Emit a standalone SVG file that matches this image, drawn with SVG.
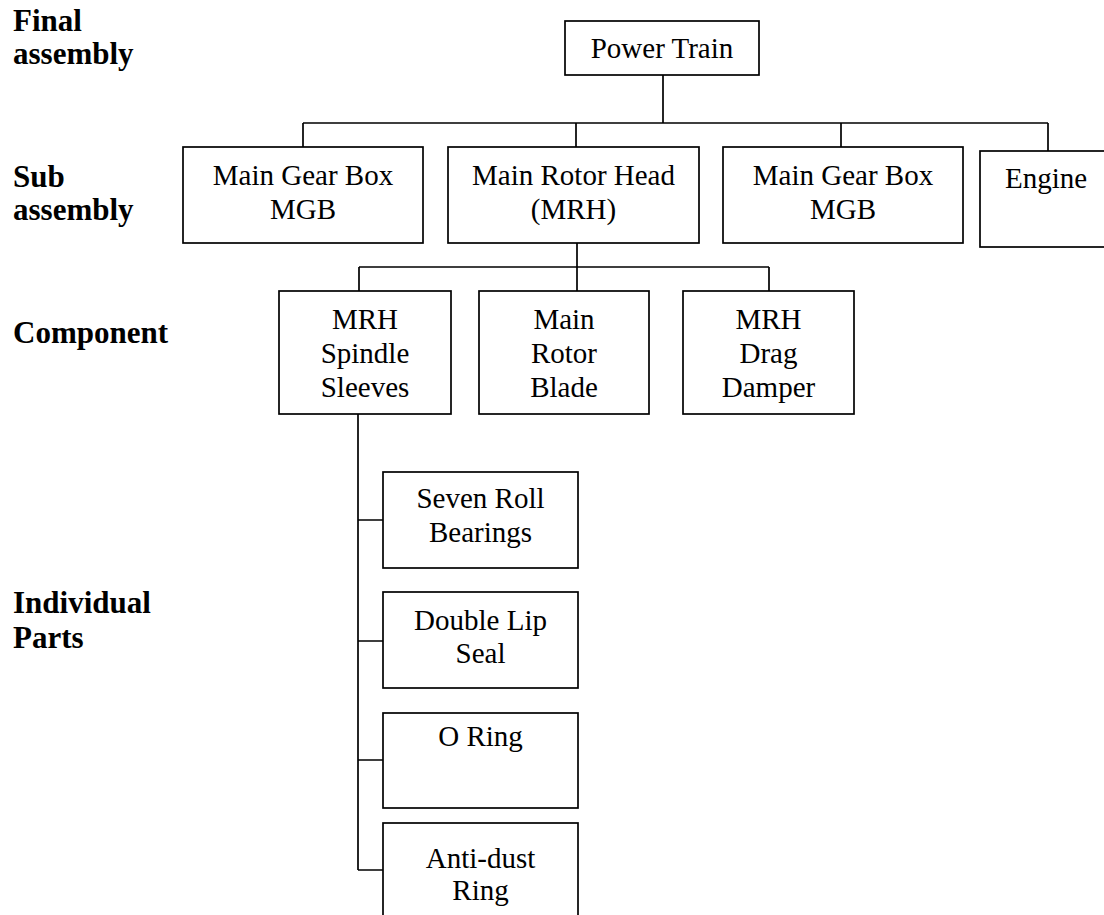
<svg xmlns="http://www.w3.org/2000/svg" width="1104" height="915" viewBox="0 0 1104 915">
  <style>
    .box { fill: #ffffff; stroke: #000000; stroke-width: 1.7; }
    .wire { fill: none; stroke: #000000; stroke-width: 1.7; }
    .lbl { font-family: "Liberation Serif", "Times New Roman", serif; font-size: 29px; fill: #000000; text-anchor: middle; }
    .lvl { font-family: "Liberation Serif", "Times New Roman", serif; font-size: 31px; font-weight: bold; fill: #000000; }
  </style>
  <rect width="1104" height="915" fill="#ffffff"/>

  <!-- level captions -->
  <g id="levels">
    <text class="lvl" x="13" y="31">Final</text>
    <text class="lvl" x="13" y="64">assembly</text>
    <text class="lvl" x="13" y="187">Sub</text>
    <text class="lvl" x="13" y="220">assembly</text>
    <text class="lvl" x="13" y="343">Component</text>
    <text class="lvl" x="13" y="613">Individual</text>
    <text class="lvl" x="13" y="648">Parts</text>
  </g>

  <!-- tree connectors -->
  <g id="connectors">
    <path class="wire" d="M663 75 V123 M303 123 H1048 M303 123 V147 M576 123 V147 M841 123 V147 M1048 123 V151"/>
    <path class="wire" d="M577 243 V291 M359 267 H769 M359 267 V291 M769 267 V291"/>
    <path class="wire" d="M358 414 V870 M358 520 H383 M358 641 H383 M358 760 H383 M358 870 H383"/>
  </g>

  <!-- final assembly -->
  <g id="power-train">
    <rect class="box" x="565" y="21" width="194" height="54"/>
    <text class="lbl" x="662" y="58">Power Train</text>
  </g>

  <!-- sub assemblies -->
  <g id="main-gear-box-1">
    <rect class="box" x="183" y="147" width="240" height="96"/>
    <text class="lbl" x="303" y="185">Main Gear Box</text>
    <text class="lbl" x="303" y="219">MGB</text>
  </g>
  <g id="main-rotor-head">
    <rect class="box" x="448" y="147" width="251" height="96"/>
    <text class="lbl" x="573.5" y="185">Main Rotor Head</text>
    <text class="lbl" x="573.5" y="219">(MRH)</text>
  </g>
  <g id="main-gear-box-2">
    <rect class="box" x="723" y="147" width="240" height="96"/>
    <text class="lbl" x="843" y="185">Main Gear Box</text>
    <text class="lbl" x="843" y="219">MGB</text>
  </g>
  <g id="engine">
    <rect class="box" x="980" y="151" width="132" height="96"/>
    <text class="lbl" x="1046" y="188">Engine</text>
  </g>

  <!-- components -->
  <g id="spindle-sleeves">
    <rect class="box" x="279" y="291" width="172" height="123"/>
    <text class="lbl" x="365" y="329">MRH</text>
    <text class="lbl" x="365" y="363">Spindle</text>
    <text class="lbl" x="365" y="397">Sleeves</text>
  </g>
  <g id="rotor-blade">
    <rect class="box" x="479" y="291" width="170" height="123"/>
    <text class="lbl" x="564" y="329">Main</text>
    <text class="lbl" x="564" y="363">Rotor</text>
    <text class="lbl" x="564" y="397">Blade</text>
  </g>
  <g id="drag-damper">
    <rect class="box" x="683" y="291" width="171" height="123"/>
    <text class="lbl" x="768.5" y="329">MRH</text>
    <text class="lbl" x="768.5" y="363">Drag</text>
    <text class="lbl" x="768.5" y="397">Damper</text>
  </g>

  <!-- individual parts -->
  <g id="roll-bearings">
    <rect class="box" x="383" y="472" width="195" height="96"/>
    <text class="lbl" x="480.5" y="508">Seven Roll</text>
    <text class="lbl" x="480.5" y="542">Bearings</text>
  </g>
  <g id="lip-seal">
    <rect class="box" x="383" y="592" width="195" height="96"/>
    <text class="lbl" x="480.5" y="630">Double Lip</text>
    <text class="lbl" x="480.5" y="663">Seal</text>
  </g>
  <g id="o-ring">
    <rect class="box" x="383" y="713" width="195" height="95"/>
    <text class="lbl" x="480.5" y="746">O Ring</text>
  </g>
  <g id="anti-dust-ring">
    <rect class="box" x="383" y="823" width="195" height="100"/>
    <text class="lbl" x="480.5" y="868">Anti-dust</text>
    <text class="lbl" x="480.5" y="900">Ring</text>
  </g>
</svg>
